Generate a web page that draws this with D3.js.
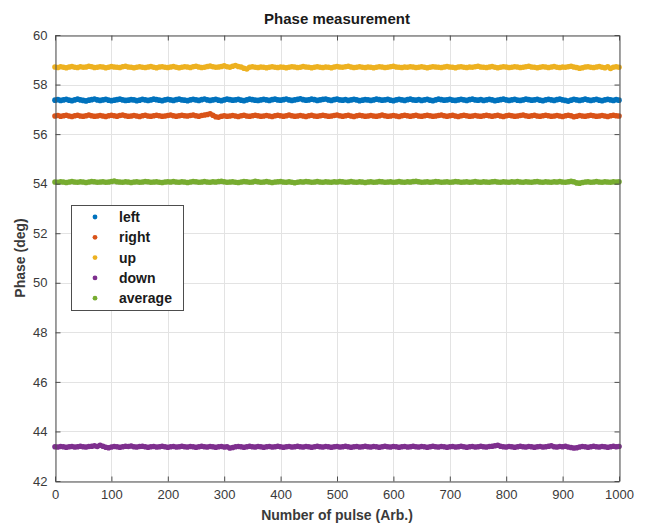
<!DOCTYPE html>
<html>
<head>
<meta charset="utf-8">
<script src="https://cdn.jsdelivr.net/npm/d3@7"></script>
<style>
  html, body { margin: 0; padding: 0; background: #fff; }
  svg { display: block; font-family: "Liberation Sans", Arial, sans-serif; }
</style>
</head>
<body>
<svg id="chart" width="645" height="526"></svg>
<script>
// Phase readings sampled every 5 pulses (0 ... 1000)
const pulses = d3.range(0, 1001, 5);

const left = [
57.37,57.39,57.36,57.38,57.40,57.37,57.35,57.38,57.41,57.38,
57.36,57.34,57.37,57.39,57.42,57.38,57.36,57.38,57.40,57.37,
57.35,57.37,57.39,57.41,57.38,57.36,57.37,57.39,57.38,57.35,
57.37,57.40,57.38,57.36,57.38,57.41,57.39,57.37,57.35,57.38,
57.40,57.38,57.36,57.39,57.41,57.38,57.37,57.35,57.38,57.40,
57.38,57.36,57.39,57.42,57.38,57.36,57.38,57.40,57.37,57.35,
57.38,57.41,57.39,57.37,57.38,57.40,57.37,57.35,57.38,57.41,
57.39,57.37,57.36,57.38,57.40,57.38,57.36,57.39,57.41,57.38,
57.37,57.39,57.42,57.38,57.36,57.38,57.40,57.43,57.39,57.37,
57.38,57.41,57.39,57.36,57.38,57.40,57.42,57.38,57.36,57.39,
57.41,57.38,57.37,57.39,57.36,57.38,57.40,57.38,57.35,57.37,
57.39,57.38,57.36,57.38,57.41,57.39,57.37,57.38,57.40,57.37,
57.35,57.38,57.40,57.38,57.36,57.39,57.41,57.38,57.37,57.39,
57.36,57.38,57.40,57.37,57.35,57.38,57.41,57.39,57.37,57.38,
57.40,57.37,57.36,57.38,57.40,57.38,57.36,57.39,57.41,57.38,
57.37,57.39,57.36,57.38,57.40,57.38,57.35,57.37,57.39,57.41,
57.38,57.36,57.38,57.40,57.37,57.36,57.38,57.41,57.39,57.37,
57.38,57.40,57.37,57.35,57.38,57.40,57.38,57.36,57.39,57.41,
57.38,57.36,57.33,57.37,57.40,57.38,57.36,57.38,57.41,57.38,
57.36,57.38,57.40,57.37,57.35,57.38,57.40,57.38,57.36,57.39,57.37
];

const right = [
56.73,56.75,56.72,56.74,56.76,56.73,56.71,56.74,56.76,56.73,
56.72,56.74,56.77,56.74,56.72,56.73,56.75,56.73,56.71,56.74,
56.76,56.74,56.72,56.75,56.77,56.74,56.72,56.73,56.75,56.73,
56.71,56.74,56.76,56.73,56.72,56.74,56.76,56.74,56.72,56.73,
56.75,56.77,56.74,56.72,56.74,56.76,56.74,56.73,56.75,56.77,
56.74,56.72,56.75,56.77,56.79,56.82,56.76,56.70,56.68,56.72,
56.74,56.72,56.73,56.75,56.73,56.71,56.74,56.76,56.73,56.72,
56.74,56.76,56.74,56.72,56.73,56.75,56.73,56.71,56.74,56.76,
56.74,56.72,56.74,56.77,56.74,56.72,56.73,56.75,56.73,56.71,
56.74,56.76,56.73,56.72,56.74,56.76,56.74,56.72,56.73,56.75,
56.77,56.74,56.72,56.74,56.76,56.73,56.71,56.74,56.76,56.74,
56.72,56.73,56.75,56.73,56.72,56.74,56.77,56.74,56.72,56.73,
56.75,56.73,56.71,56.74,56.76,56.74,56.72,56.74,56.76,56.73,
56.72,56.74,56.76,56.74,56.72,56.73,56.75,56.77,56.74,56.72,
56.74,56.76,56.73,56.71,56.74,56.76,56.74,56.72,56.73,56.75,
56.73,56.72,56.74,56.76,56.74,56.72,56.74,56.76,56.73,56.71,
56.74,56.76,56.74,56.72,56.73,56.75,56.77,56.74,56.72,56.74,
56.76,56.73,56.72,56.74,56.76,56.74,56.72,56.73,56.75,56.73,
56.71,56.74,56.76,56.74,56.70,56.72,56.75,56.73,56.72,56.74,
56.76,56.74,56.72,56.73,56.75,56.73,56.71,56.74,56.76,56.74,56.73
];

const up = [
58.71,58.69,58.72,58.70,58.68,58.71,58.73,58.70,58.69,58.72,
58.70,58.71,58.74,58.72,58.69,58.70,58.72,58.71,58.68,58.70,
58.73,58.71,58.70,58.69,58.72,58.74,58.71,58.70,58.68,58.70,
58.72,58.70,58.69,58.71,58.73,58.70,58.68,58.71,58.72,58.70,
58.69,58.71,58.73,58.70,58.68,58.70,58.72,58.71,58.69,58.72,
58.74,58.71,58.69,58.70,58.73,58.75,58.72,58.70,58.71,58.73,
58.76,58.72,58.70,58.74,58.77,58.73,58.71,58.66,58.63,58.70,
58.72,58.70,58.69,58.71,58.70,58.68,58.70,58.72,58.70,58.69,
58.71,58.70,58.68,58.70,58.72,58.71,58.69,58.70,58.73,58.71,
58.70,58.68,58.70,58.72,58.70,58.69,58.71,58.70,58.68,58.71,
58.73,58.71,58.70,58.72,58.74,58.71,58.69,58.70,58.72,58.70,
58.69,58.71,58.70,58.68,58.70,58.72,58.71,58.69,58.70,58.72,
58.74,58.71,58.70,58.69,58.71,58.70,58.72,58.71,58.69,58.70,
58.72,58.70,58.68,58.70,58.72,58.71,58.70,58.69,58.71,58.73,
58.71,58.70,58.68,58.71,58.72,58.70,58.69,58.71,58.70,58.72,
58.74,58.71,58.70,58.69,58.71,58.73,58.70,58.68,58.70,58.72,
58.71,58.69,58.70,58.72,58.71,58.69,58.70,58.72,58.74,58.71,
58.70,58.68,58.70,58.72,58.71,58.69,58.71,58.73,58.70,58.69,
58.71,58.70,58.72,58.74,58.71,58.69,58.66,58.68,58.71,58.72,
58.70,58.69,58.71,58.73,58.70,58.68,58.72,58.65,58.70,58.72,58.70
];

const down = [
43.38,43.37,43.39,43.38,43.36,43.38,43.39,43.37,43.38,43.40,
43.38,43.37,43.39,43.40,43.42,43.39,43.44,43.40,43.36,43.34,
43.37,43.39,43.38,43.36,43.38,43.40,43.39,43.41,43.38,43.37,
43.39,43.40,43.38,43.36,43.38,43.39,43.37,43.38,43.40,43.38,
43.36,43.38,43.39,43.37,43.38,43.40,43.38,43.37,43.39,43.38,
43.36,43.38,43.40,43.38,43.37,43.39,43.38,43.36,43.38,43.39,
43.37,43.38,43.33,43.35,43.38,43.39,43.38,43.36,43.38,43.40,
43.38,43.37,43.39,43.38,43.36,43.38,43.39,43.37,43.38,43.40,
43.38,43.36,43.38,43.39,43.37,43.38,43.40,43.38,43.37,43.39,
43.38,43.36,43.38,43.40,43.38,43.37,43.39,43.38,43.36,43.38,
43.39,43.37,43.38,43.40,43.38,43.36,43.38,43.39,43.37,43.38,
43.40,43.38,43.37,43.39,43.38,43.36,43.38,43.40,43.38,43.37,
43.39,43.38,43.36,43.38,43.39,43.37,43.38,43.40,43.38,43.37,
43.39,43.38,43.36,43.38,43.40,43.38,43.37,43.39,43.38,43.36,
43.38,43.39,43.37,43.38,43.40,43.38,43.36,43.38,43.39,43.37,
43.38,43.40,43.38,43.37,43.39,43.40,43.42,43.44,43.40,43.38,
43.37,43.39,43.38,43.36,43.38,43.40,43.38,43.37,43.39,43.38,
43.36,43.38,43.39,43.37,43.38,43.40,43.42,43.38,43.37,43.39,
43.38,43.40,43.37,43.35,43.33,43.34,43.37,43.39,43.38,43.36,
43.38,43.40,43.38,43.37,43.39,43.38,43.36,43.38,43.40,43.38,43.39
];

const average = [
54.07,54.06,54.08,54.07,54.05,54.07,54.09,54.07,54.06,54.08,
54.07,54.05,54.07,54.09,54.08,54.06,54.07,54.08,54.06,54.07,
54.09,54.11,54.08,54.07,54.06,54.08,54.07,54.05,54.07,54.08,
54.06,54.07,54.09,54.08,54.06,54.07,54.08,54.06,54.05,54.07,
54.08,54.07,54.09,54.07,54.06,54.08,54.07,54.05,54.07,54.09,
54.08,54.06,54.07,54.09,54.07,54.06,54.08,54.07,54.09,54.10,
54.08,54.06,54.07,54.08,54.06,54.05,54.07,54.09,54.08,54.06,
54.07,54.10,54.08,54.06,54.07,54.09,54.07,54.05,54.07,54.08,
54.09,54.07,54.06,54.08,54.06,54.04,54.06,54.08,54.07,54.09,
54.08,54.06,54.07,54.09,54.07,54.06,54.08,54.07,54.06,54.08,
54.07,54.09,54.08,54.06,54.07,54.09,54.07,54.06,54.08,54.07,
54.05,54.07,54.08,54.06,54.07,54.09,54.08,54.06,54.07,54.08,
54.06,54.07,54.09,54.07,54.06,54.08,54.07,54.09,54.10,54.08,
54.06,54.07,54.08,54.06,54.07,54.09,54.08,54.06,54.07,54.08,
54.06,54.07,54.09,54.08,54.06,54.07,54.08,54.06,54.07,54.09,
54.07,54.06,54.08,54.07,54.06,54.08,54.09,54.07,54.06,54.08,
54.07,54.06,54.08,54.07,54.09,54.07,54.06,54.08,54.07,54.06,
54.08,54.09,54.07,54.06,54.08,54.07,54.06,54.08,54.07,54.09,
54.07,54.06,54.08,54.10,54.08,54.03,54.02,54.05,54.07,54.08,
54.06,54.07,54.09,54.07,54.06,54.08,54.07,54.06,54.08,54.07,54.08
];

const seriesNames = ["left", "right", "up", "down", "average"];
const seriesValues = [left, right, up, down, average];
const seriesColors = ["#0072BD", "#D95319", "#EDB120", "#7E2F8E", "#77AC30"];

const xTicks = [0, 100, 200, 300, 400, 500, 600, 700, 800, 900, 1000];
const yTicks = [42, 44, 46, 48, 50, 52, 54, 56, 58, 60];

const titleText = "Phase measurement";
const xLabelText = "Number of pulse (Arb.)";
const yLabelText = "Phase (deg)";

// ---- layout ----
const svg = d3.select("#chart");
const plot = { left: 55, top: 35, right: 619, bottom: 481 };
const axisColor = "#4d4d4d";
const textColor = "#3a3a3a";
const tickLen = 5;

const x = d3.scaleLinear().domain([0, 1000]).range([plot.left, plot.right]);
const y = d3.scaleLinear().domain([42, 60]).range([plot.bottom, plot.top]);

// background
svg.append("rect")
  .attr("x", plot.left).attr("y", plot.top)
  .attr("width", plot.right - plot.left).attr("height", plot.bottom - plot.top)
  .attr("fill", "#fff");

// grid
const grid = svg.append("g").attr("stroke", "#e3e3e3").attr("stroke-width", 1);
grid.selectAll(".gx").data(xTicks).join("line")
  .attr("x1", d => Math.round(x(d)) + 0.5).attr("x2", d => Math.round(x(d)) + 0.5)
  .attr("y1", plot.top).attr("y2", plot.bottom);
grid.selectAll(".gy").data(yTicks).join("line")
  .attr("y1", d => Math.round(y(d)) + 0.5).attr("y2", d => Math.round(y(d)) + 0.5)
  .attr("x1", plot.left).attr("x2", plot.right);

// data markers
const marks = svg.append("g");
seriesValues.forEach((vals, i) => {
  marks.append("g").attr("fill", seriesColors[i])
    .selectAll("circle").data(vals).join("circle")
    .attr("cx", (d, j) => x(pulses[j]))
    .attr("cy", d => y(d))
    .attr("r", 2.8);
});

// axes with inward ticks on all four sides
const fmt = d3.format("d");
const xAxisBottom = d3.axisBottom(x).tickValues(xTicks).tickFormat(fmt).tickSizeInner(-tickLen).tickSizeOuter(0).tickPadding(8);
const xAxisTop = d3.axisTop(x).tickValues(xTicks).tickSizeInner(-tickLen).tickSizeOuter(0).tickFormat("");
const yAxisLeft = d3.axisLeft(y).tickValues(yTicks).tickFormat(fmt).tickSizeInner(-tickLen).tickSizeOuter(0).tickPadding(8);
const yAxisRight = d3.axisRight(y).tickValues(yTicks).tickSizeInner(-tickLen).tickSizeOuter(0).tickFormat("");

function styleAxis(g) {
  g.select(".domain").attr("stroke", axisColor);
  g.selectAll(".tick line").attr("stroke", axisColor);
  g.selectAll(".tick text").attr("fill", textColor).attr("font-size", 13)
    .attr("font-family", "'Liberation Sans', Arial, sans-serif");
}

svg.append("g").attr("transform", `translate(0,${plot.bottom + 0.5})`).call(xAxisBottom).call(styleAxis);
svg.append("g").attr("transform", `translate(0,${plot.top + 0.5})`).call(xAxisTop).call(styleAxis);
svg.append("g").attr("transform", `translate(${plot.left + 0.5},0)`).call(yAxisLeft).call(styleAxis);
svg.append("g").attr("transform", `translate(${plot.right + 0.5},0)`).call(yAxisRight).call(styleAxis);

// title and axis labels
svg.append("text")
  .attr("x", (plot.left + plot.right) / 2).attr("y", 24)
  .attr("text-anchor", "middle").attr("font-weight", "bold").attr("font-size", 15)
  .attr("fill", "#1a1a1a").text(titleText);

svg.append("text")
  .attr("x", (plot.left + plot.right) / 2).attr("y", 520)
  .attr("text-anchor", "middle").attr("font-weight", "bold").attr("font-size", 14)
  .attr("fill", textColor).text(xLabelText);

svg.append("text")
  .attr("transform", `translate(25,${(plot.top + plot.bottom) / 2}) rotate(-90)`)
  .attr("text-anchor", "middle").attr("font-weight", "bold").attr("font-size", 14)
  .attr("fill", textColor).text(yLabelText);

// legend
const legend = svg.append("g");
const lg = { x: 71, y: 205, w: 112, h: 105 };
legend.append("rect")
  .attr("x", lg.x + 0.5).attr("y", lg.y + 0.5).attr("width", lg.w).attr("height", lg.h)
  .attr("fill", "#fff").attr("stroke", axisColor).attr("stroke-width", 1);
seriesNames.forEach((name, i) => {
  const cy = lg.y + 12 + i * 20.3;
  legend.append("circle").attr("cx", lg.x + 24).attr("cy", cy).attr("r", 2.4).attr("fill", seriesColors[i]);
  legend.append("text").attr("x", lg.x + 48).attr("y", cy + 5)
    .attr("font-weight", "bold").attr("font-size", 14).attr("fill", "#1a1a1a").text(name);
});
</script>
</body>
</html>
